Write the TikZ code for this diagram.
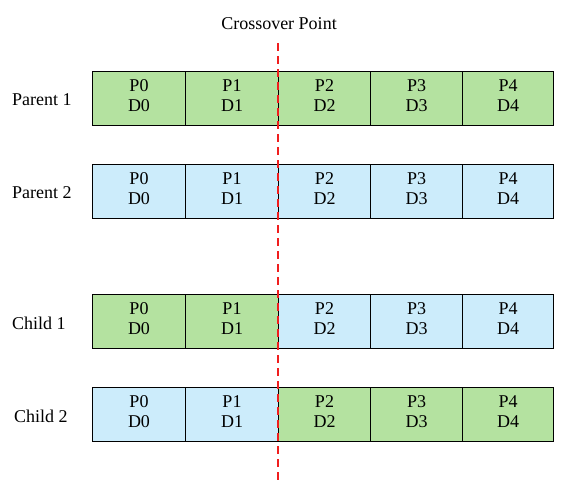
\documentclass[tikz,border=0pt]{standalone}
\usepackage{fontspec}
\setmainfont{Liberation Serif}
\definecolor{cgreen}{RGB}{180,226,160}
\definecolor{cblue}{RGB}{204,236,251}
\definecolor{cred}{RGB}{240,30,30}
\begin{document}
\begin{tikzpicture}[x=1pt,y=-1pt,
  cell/.style={draw=black,line width=1pt,anchor=north west,minimum height=54pt,inner sep=0pt},
  gcell/.style={cell,fill=cgreen},
  bcell/.style={cell,fill=cblue},
  celltext/.style={align=center,font=\fontsize{18}{20}\selectfont,inner sep=0pt},
  rowlabel/.style={anchor=west,font=\fontsize{18}{22}\selectfont,inner sep=0pt},
  cut/.style={draw=cred,line width=2pt,dash pattern=on 8pt off 5pt}]
\useasboundingbox (0,0) rectangle (583,480);
\def\xs{{92,185,278,370,462,553}}
\foreach \row/\top/\ca/\cb/\lab/\lx in {p1/71/gcell/gcell/Parent 1/12, p2/164/bcell/bcell/Parent 2/12, c1/294/gcell/bcell/Child 1/12, c2/387/bcell/gcell/Child 2/14}{
  \node[rowlabel] (\row lab) at (\lx,\top+29) {\lab};
  \foreach \i in {0,...,4}{
    \pgfmathsetmacro{\xa}{\xs[\i]}
    \pgfmathsetmacro{\xb}{\xs[\i+1]}
    \pgfmathsetmacro{\w}{\xb-\xa}
    \ifnum\i<2
      \node[\ca,minimum width=\w pt] (\row c\i) at (\xa,\top) {};
    \else
      \node[\cb,minimum width=\w pt] (\row c\i) at (\xa,\top) {};
    \fi
    \node[celltext] (\row t\i) at ([yshift=3pt]\row c\i.center) {P\i\\D\i};
  }
}
\node[font=\fontsize{18}{22}\selectfont,inner sep=0pt] (cross) at (279,24) {Crossover Point};
\coordinate (cuttop) at (278,43);
\coordinate (cutbot) at (278,480);
\draw[cut] (cuttop) -- (cutbot);
\end{tikzpicture}
\end{document}
